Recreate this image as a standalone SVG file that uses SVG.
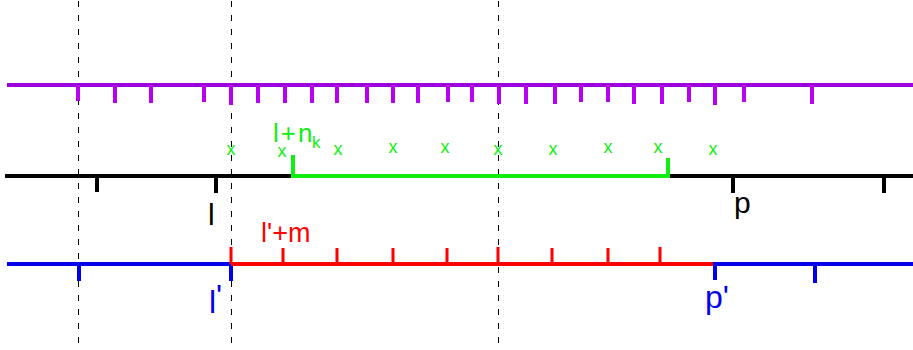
<svg xmlns="http://www.w3.org/2000/svg" width="913" height="350" viewBox="0 0 913 350">
<style>
.guide{stroke:#000;stroke-width:1;stroke-dasharray:6 8;fill:none}
.pl{stroke:#9c00dc;stroke-width:4;fill:none}
.pt{stroke:#b800ee;stroke-width:4;fill:none}
.bl{stroke:#000;stroke-width:4;fill:none}
.gl{stroke:#11ee11;stroke-width:4;fill:none}
.rl{stroke:#ff0000;stroke-width:4;fill:none}
.rt{stroke:#ff0000;stroke-width:3;fill:none}
.ul{stroke:#0000ee;stroke-width:4;fill:none}
text{font-family:"Liberation Sans",Arial,sans-serif}
.gx{fill:#11ee11;font-size:18px;text-anchor:middle}
</style>
<g id="guides">
<line class="guide" x1="78.5" y1="1" x2="78.5" y2="350"/>
<line class="guide" x1="231.5" y1="1" x2="231.5" y2="350"/>
<line class="guide" x1="498.5" y1="1" x2="498.5" y2="350"/>
</g>
<g id="purple-axis">
<line class="pl" x1="7" y1="85" x2="913" y2="85"/>
<path class="pt" d="M78 85V101M115 85V103M151 85V103M204 85V102M231 85V105M258 85V103M285 85V103M312 85V103M337 85V103M367 85V103M393 85V103M418 85V103M448 85V102M472 85V102M499 85V104M526 85V104M555 85V104M581 85V102M608 85V102M634 85V104M662 85V104M689 85V102M715 85V105M744 85V102M812 85V104"/>
</g>
<g id="black-axis">
<line class="bl" x1="5" y1="176" x2="293" y2="176"/>
<line class="bl" x1="668" y1="176" x2="913" y2="176"/>
<path class="bl" d="M97 176V192M216 176V193M733 176V193M884 176V193"/>
<text x="208" y="225" font-size="30" fill="#000">l</text>
<text x="734" y="213" font-size="30" fill="#000">p</text>
</g>
<g id="green-segment">
<line class="gl" x1="293" y1="176" x2="668" y2="176"/>
<path class="gl" d="M293 178V155M668 178V158"/>
<text x="273" y="142" font-size="26" letter-spacing="2" fill="#11ee11">l+n<tspan x="312" y="148" font-size="17" letter-spacing="0">k</tspan></text>
<text class="gx" x="231" y="155">x</text>
<text class="gx" x="282" y="157">x</text>
<text class="gx" x="338" y="155">x</text>
<text class="gx" x="393" y="153">x</text>
<text class="gx" x="445" y="153">x</text>
<text class="gx" x="498" y="155">x</text>
<text class="gx" x="553" y="155">x</text>
<text class="gx" x="608" y="153">x</text>
<text class="gx" x="658" y="153">x</text>
<text class="gx" x="713" y="155">x</text>
</g>
<g id="blue-axis">
<line class="ul" x1="7" y1="264" x2="231" y2="264"/>
<line class="ul" x1="713" y1="264" x2="913" y2="264"/>
<path class="ul" d="M79 264V281M231 264V281M715 262V280M815 264V283"/>
<text x="209" y="313" font-size="32" fill="#0000ee">l<tspan dy="-6">'</tspan></text>
<text x="705" y="308" font-size="32" fill="#0000ee">p'</text>
</g>
<g id="red-segment">
<line class="rl" x1="231" y1="264" x2="713" y2="264"/>
<path class="rt" d="M231 264V247M283 264V248M337 264V248M393 264V248M447 264V248M498 264V247M552 264V248M608 264V248M660 264V247"/>
<text x="261" y="242" font-size="27" fill="#ff0000">l'+m</text>
</g>
</svg>
